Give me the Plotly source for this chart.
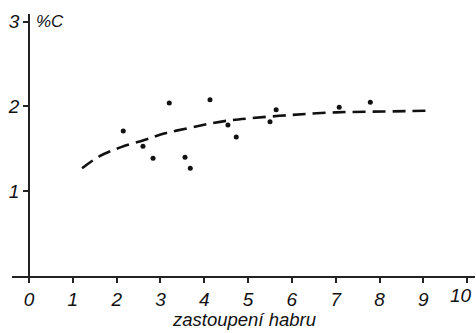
import plotly.graph_objects as go

# measured points
pts_x = [2.15, 2.60, 2.83, 3.20, 3.56, 3.68, 4.13, 4.54, 4.73, 5.50, 5.64, 7.08, 7.79]
pts_y = [1.71, 1.53, 1.39, 2.04, 1.40, 1.27, 2.08, 1.78, 1.64, 1.82, 1.96, 1.99, 2.05]

# dashed trend curve
curve_x = [1.21, 1.6, 2.1, 2.67, 3.08, 3.6, 4.06, 4.5, 5.05, 6.0, 7.01, 8.1, 9.2]
curve_y = [1.27, 1.41, 1.52, 1.61, 1.68, 1.74, 1.79, 1.83, 1.86, 1.90, 1.93, 1.94, 1.95]

x_ticks = [0, 1, 2, 3, 4, 5, 6, 7, 8, 9, 10]
y_ticks = [1, 2, 3]

font = dict(family="Liberation Sans, DejaVu Sans, sans-serif", color="#111", size=19, style="italic")

fig = go.Figure()
fig.add_trace(go.Scatter(x=curve_x, y=curve_y, mode="lines",
                         line=dict(color="#111", width=2.6, dash="13px,7px", shape="spline"), hoverinfo="skip"))
fig.add_trace(go.Scatter(x=pts_x, y=pts_y, mode="markers", marker=dict(color="#111", size=5)))

xt_text = [str(v) for v in x_ticks]
xt_text[-1] = ""  # "10" is placed as an annotation so it is not clipped

fig.update_layout(
    width=476, height=333,
    margin=dict(l=12, r=1, t=14, b=57),
    paper_bgcolor="white", plot_bgcolor="white",
    showlegend=False,
    font=font,
    xaxis=dict(range=[-0.39, 10.18], tickvals=x_ticks, ticktext=xt_text,
               showgrid=False, zeroline=False, showline=True, linecolor="#222", linewidth=1.5,
               ticks="outside", ticklen=5, tickwidth=1.5, tickcolor="#222", tickfont=font),
    yaxis=dict(range=[0, 3.09], tickvals=y_ticks, ticktext=[str(v) for v in y_ticks],
               anchor="free", position=(29 - 12) / 463,
               showgrid=False, zeroline=False, showline=True, linecolor="#222", linewidth=1.5,
               ticks="outside", ticklen=5, tickwidth=1.5, tickcolor="#222", tickfont=font),
)

fig.add_annotation(x=1.0, y=0, xref="paper", yref="paper", text="10", showarrow=False,
                   xanchor="right", yanchor="top", xshift=-1, yshift=-7, font=font)
fig.add_annotation(x=0.12, y=3.0, xref="x", yref="y", text="%C", showarrow=False,
                   xanchor="left", yanchor="middle", font=dict(font, size=17))
fig.add_annotation(x=4.9, y=0, xref="x", yref="paper", text="zastoupení habru", showarrow=False,
                   xanchor="center", yanchor="top", yshift=-31, font=dict(font, size=18.5))

fig.write_html("out.html", config={"displayModeBar": False},
               post_script="document.body.style.margin='0';document.body.style.overflow='hidden';")
